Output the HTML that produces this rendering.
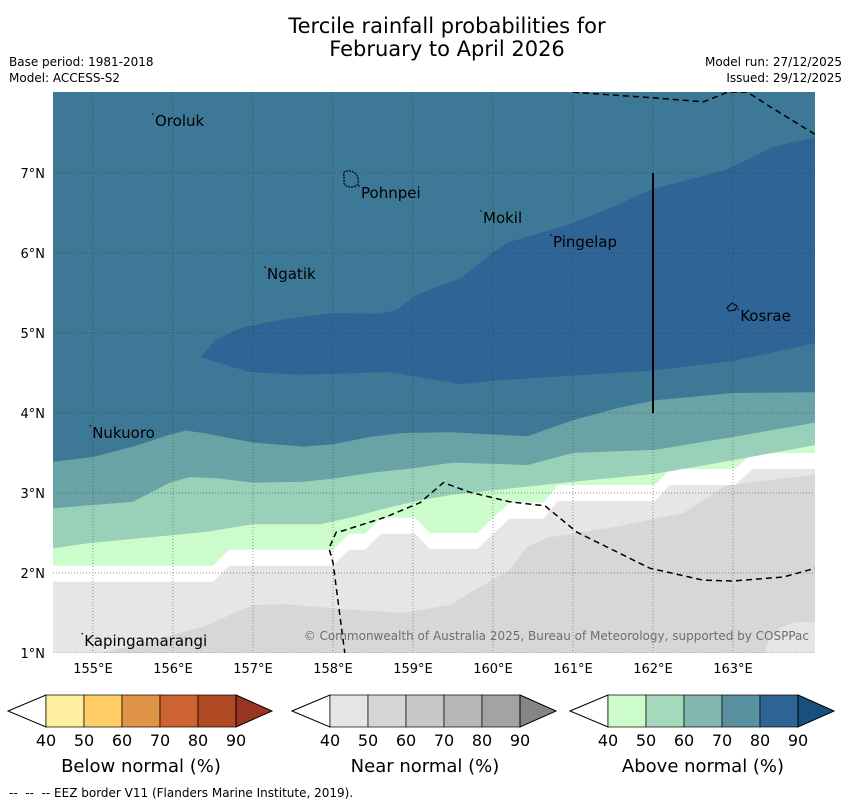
<!DOCTYPE html>
<html><head><meta charset="utf-8">
<style>
body{margin:0;background:#fff;width:850px;height:804px;overflow:hidden;font-family:"DejaVu Sans","Liberation Sans",sans-serif;}
svg{display:block}
</style></head>
<body>
<svg id="chart" width="850" height="804" viewBox="0 0 850 804" xmlns="http://www.w3.org/2000/svg" font-family="DejaVu Sans, Liberation Sans, sans-serif">
  <text x="447" y="33" font-size="21" text-anchor="middle" fill="#000">Tercile rainfall probabilities for</text>
  <text x="447" y="56" font-size="21" text-anchor="middle" fill="#000">February to April 2026</text>
  <text x="9" y="66" font-size="12">Base period: 1981-2018</text>
  <text x="9" y="82" font-size="12">Model: ACCESS-S2</text>
  <text x="842" y="66" font-size="12" text-anchor="end">Model run: 27/12/2025</text>
  <text x="842" y="82" font-size="12" text-anchor="end">Issued: 29/12/2025</text>
  <defs><clipPath id="mapclip"><rect x="53" y="92" width="762" height="561"/></clipPath></defs>
  <g id="map" clip-path="url(#mapclip)"></g>
  <g id="overlay"></g>
  <g id="axes"></g>
  <g id="legend"></g>
  <text x="9" y="797" font-size="12" xml:space="preserve">--  --  -- EEZ border V11 (Flanders Marine Institute, 2019).</text>
</svg>
<script>
// ---- data (lon, lat) ----
const lonTicks = [155,156,157,158,159,160,161,162,163];
const latTicks = [1,2,3,4,5,6,7];
const contourL1Lon = [154.5,155.09,155.75,156.38,157.0,157.41,158.25,158.88,159.46,159.71,160.21,160.43,160.68,161.55,162.38,162.93,164.03];
const contourL1Lat = [0.9,1.0,1.16,1.33,1.6,1.61,1.54,1.5,1.6,1.75,2.04,2.33,2.44,2.58,2.75,3.1,3.23];
const contourL2Lon = [154.5,156.5,156.7,158.0,158.2,158.4,158.6,159.03,159.21,159.81,160.01,160.21,160.63,160.81,162.03,162.21,163.03,163.24,164.03];
const contourL2Lat = [1.89,1.89,2.09,2.09,2.29,2.29,2.49,2.49,2.3,2.3,2.5,2.68,2.68,2.9,2.9,3.1,3.1,3.3,3.3];
const contourL3Lon = [154.5,156.5,156.7,158.0,158.2,158.4,158.6,159.03,159.21,159.81,160.01,160.21,160.63,160.81,162.03,162.21,163.03,163.24,164.03];
const contourL3Lat = [2.09,2.09,2.29,2.29,2.49,2.49,2.69,2.69,2.5,2.5,2.7,2.88,2.88,3.1,3.1,3.3,3.3,3.5,3.5];
const contourL4Lon = [154.5,155.0,155.75,156.38,157.0,157.84,158.25,158.66,159.09,159.5,160.43,161.0,162.03,163.0,164.03];
const contourL4Lat = [2.31,2.38,2.45,2.51,2.61,2.61,2.7,2.81,2.91,2.98,3.08,3.14,3.24,3.41,3.6];
const contourL5Lon = [154.5,155.0,155.5,155.96,156.21,156.59,157.0,157.63,158.0,158.46,159.0,159.5,160.43,161.0,162.03,163.0,164.03];
const contourL5Lat = [2.81,2.85,2.89,3.13,3.2,3.18,3.13,3.14,3.18,3.25,3.31,3.38,3.35,3.5,3.54,3.7,3.88];
const contourL6Lon = [154.5,155.0,155.5,155.96,156.16,156.38,157.0,157.63,158.0,158.46,158.88,159.46,160.43,161.0,161.55,162.03,163.0,164.03];
const contourL6Lat = [3.39,3.45,3.58,3.73,3.78,3.75,3.63,3.58,3.61,3.7,3.75,3.76,3.71,3.91,4.06,4.16,4.25,4.26];
const darkBlueLon = [156.34,156.53,156.84,157.21,157.59,158.0,158.59,158.8,159.05,159.61,160.0,160.18,160.93,161.34,162.0,162.88,163.13,163.5,164.2,164.2,163.0,162.0,160.09,159.59,158.71,157.59,156.96,156.53];
const darkBlueLat = [4.70,4.91,5.06,5.14,5.20,5.25,5.24,5.29,5.48,5.69,6.01,6.13,6.35,6.51,6.8,7.03,7.14,7.33,7.48,4.91,4.65,4.53,4.41,4.36,4.51,4.48,4.51,4.64];
const eezSouthLon = [158.15,158.0,157.95,158.04,158.13,158.66,159.09,159.38,159.71,160.21,160.65,161.05,161.96,162.63,163.0,163.63,164.03];
const eezSouthLat = [0.98,2.13,2.31,2.51,2.53,2.7,2.88,3.13,3.01,2.89,2.84,2.51,2.06,1.91,1.9,1.95,2.06];
const eezNorthLon = [161.0,162.0,162.63,162.93,163.18,163.43,164.03];
const eezNorthLat = [8.01,7.94,7.89,8.01,8.01,7.85,7.48];
const placeNames = ["Oroluk","Pohnpei","Mokil","Pingelap","Ngatik","Kosrae","Nukuoro","Kapingamarangi"];
const placeLon = [155.775,158.35,159.875,160.75,157.175,163.09,154.99,154.89];
const placeLat = [7.59,6.69,6.375,6.075,5.675,5.15,3.69,1.09];
const cbTicks = ["40","50","60","70","80","90"];
const belowColors = ["#ffeea0","#ffcc66","#e09448","#cd6232","#b04a24","#98341f"];
const nearColors = ["#e6e6e6","#d6d6d6","#c8c8c8","#b6b6b6","#a3a3a3","#858585"];
const aboveColors = ["#ccfccc","#a4d9bc","#82b8ae","#5a91a1","#2f6497","#16507f"];

const NS="http://www.w3.org/2000/svg";
const X = lon => 53 + (lon - 154.5) * 80;
const Y = lat => 653 - (lat - 1) * 80;
function mk(tag, attrs, parent){const e=document.createElementNS(NS,tag);for(const k in attrs)e.setAttribute(k,attrs[k]);parent.appendChild(e);return e;}
const map=document.getElementById('map');
const axes=document.getElementById('axes');
const legend=document.getElementById('legend');

let bg=mk('rect',{x:53,y:92,width:762,height:561,fill:'#d7d7d7'},map);



function above(lons,lats,color,name){
  let d='M'+(X(lons[0])-20)+','+Y(lats[0]);
  for(let i=0;i<lons.length;i++) d+=' L'+X(lons[i]).toFixed(1)+','+Y(lats[i]).toFixed(1);
  const lx=X(lons[lons.length-1])+20;
  d+=' L'+lx+','+Y(lats[lats.length-1])+' L'+lx+',60 L'+(X(lons[0])-20)+',60 Z';
  const p=mk('path',{d:d,fill:color},map);
  
  
}
above(contourL1Lon,contourL1Lat,'#e6e6e6','light-gray-region');
above(contourL2Lon,contourL2Lat,'#ffffff','white-region');
above(contourL3Lon,contourL3Lat,'#ccfccc','pale-green-region');
above(contourL4Lon,contourL4Lat,'#99d0b9','light-teal-region');
above(contourL5Lon,contourL5Lat,'#6aa3a5','teal-region');
above(contourL6Lon,contourL6Lat,'#3e7897','blue-region');
{
  let d='';
  for(let i=0;i<darkBlueLon.length;i++) d+=(i?' L':'M')+X(darkBlueLon[i]).toFixed(1)+','+Y(darkBlueLat[i]).toFixed(1);
  const p=mk('path',{d:d+' Z',fill:'#2f6496'},map);
  
  
}
{
  const p=mk('path',{d:'M765,653 Q770,625 800,622 L815,622 L815,653 Z',fill:'#e6e6e6'},map);
  
  
}
lonTicks.forEach(v=>{
  const l=mk('line',{x1:X(v),x2:X(v),y1:92,y2:653,stroke:'#333',"stroke-width":0.7,"stroke-dasharray":"1,2",opacity:0.7},map);
  
  
});
latTicks.forEach(v=>{
  const l=mk('line',{x1:53,x2:815,y1:Y(v),y2:Y(v),stroke:'#333',"stroke-width":0.7,"stroke-dasharray":"1,2",opacity:0.7},map);
  
  
});
function pline(lons,lats,name){
  let d='';
  for(let i=0;i<lons.length;i++) d+=(i?' L':'M')+X(lons[i]).toFixed(1)+','+Y(lats[i]).toFixed(1);
  const p=mk('path',{d:d,fill:'none',stroke:'#000',"stroke-width":1.5,"stroke-dasharray":"6,4"},map);
  
  
}
pline(eezSouthLon,eezSouthLat,'eez-border-south');
pline(eezNorthLon,eezNorthLat,'eez-border-north');
{
  const l=mk('line',{x1:X(162),x2:X(162),y1:Y(7),y2:Y(4),stroke:'#000',"stroke-width":2},map);
  
  
}
{
  const p=mk('path',{d:'M344,176 Q342,170 350,171 Q357,172 358,179 Q360,186 352,187 Q343,187 344,181 Z',fill:'none',stroke:'#000',"stroke-width":1.2,"stroke-dasharray":"2,1"},map);
  
  
  const k=mk('path',{d:'M727,308 L732,303 L737,306 L735,310 L729,311 Z',fill:'none',stroke:'#000',"stroke-width":1},map);
  
  
}
placeNames.forEach((n,i)=>{
  const dot=mk('circle',{cx:X(placeLon[i])-2,cy:Y(placeLat[i])-12,r:0.8,fill:'#000'},map);
  
  
  const t=mk('text',{x:X(placeLon[i]),y:Y(placeLat[i]),"font-size":15,fill:'#000'},map);
  t.textContent=n;
  
  
});
{
  const t=mk('text',{x:809,y:640,"font-size":12,fill:'#6e6e6e',"text-anchor":"end"},map);
  t.textContent='© Commonwealth of Australia 2025, Bureau of Meteorology, supported by COSPPac';
  
  
}
lonTicks.forEach(v=>{
  const t=mk('text',{x:X(v),y:673,"font-size":13,"text-anchor":"middle"},axes);
  t.textContent=v+'°E';
  
  
});
latTicks.forEach(v=>{
  const t=mk('text',{x:45,y:Y(v)+5,"font-size":13,"text-anchor":"end"},axes);
  t.textContent=v+'°N';
  
  
});
function colorbar(x0,colors,title,name){
  const g=mk('g',{},legend);
  
  
  const w=38, top=695, bot=727, mid=711, bx=x0+38;
  const lt=mk('path',{d:`M${x0},${mid} L${bx},${top} L${bx},${bot} Z`,fill:'#fff',stroke:'#000',"stroke-width":1},g);
  
  
  for(let i=0;i<5;i++){
    const r=mk('rect',{x:bx+i*w,y:top,width:w,height:bot-top,fill:colors[i],stroke:'#000',"stroke-width":0.7},g);
    
    
  }
  const ex=bx+5*w;
  const rt=mk('path',{d:`M${ex},${top} L${ex+36},${mid} L${ex},${bot} Z`,fill:colors[5],stroke:'#000',"stroke-width":1},g);
  
  
  cbTicks.forEach((s,i)=>{
    const t=mk('text',{x:bx+i*w,y:746,"font-size":16,"text-anchor":"middle"},g);
    t.textContent=s;
    
    
  });
  const tt=mk('text',{x:bx+2.5*w,y:772,"font-size":18,"text-anchor":"middle"},g);
  tt.textContent=title;
  
  
}
colorbar(8,belowColors,'Below normal (%)','below-normal-colorbar');
colorbar(292,nearColors,'Near normal (%)','near-normal-colorbar');
colorbar(570,aboveColors,'Above normal (%)','above-normal-colorbar');
</script>
</body></html>
